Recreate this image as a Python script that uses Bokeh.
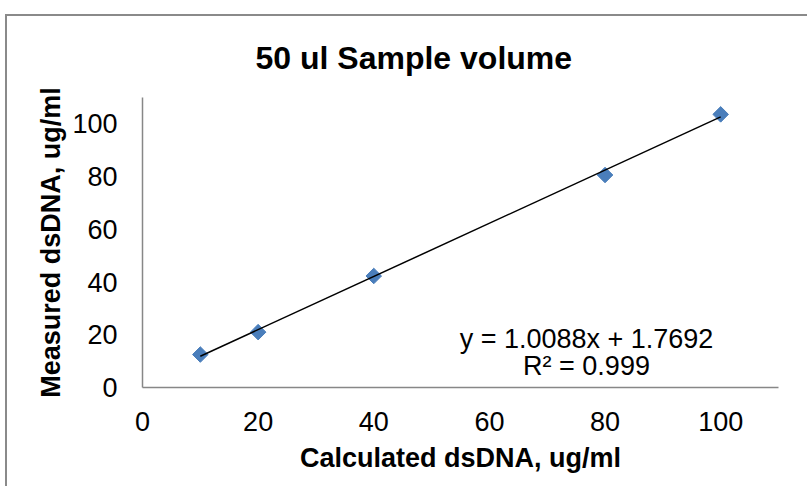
import math
from bokeh.plotting import figure
from bokeh.models import Label, Range1d, FixedTicker
from bokeh.embed import file_html
from bokeh.resources import INLINE

# ---- data ----
calculated = [10, 20, 40, 80, 100]
measured = [12.5, 21.0, 42.3, 80.6, 103.6]
x_ticks = [0, 20, 40, 60, 80, 100]
y_ticks = [0, 20, 40, 60, 80, 100]
slope = 1.0088
intercept = 1.7692
r_squared = 0.999
title_text = "50 ul Sample volume"
x_title = "Calculated dsDNA, ug/ml"
y_title = "Measured dsDNA, ug/ml"

FONT = "Liberation Sans"
AXIS_COLOR = "#878787"

p = figure(width=800, height=470, output_backend="svg", toolbar_location=None,
           x_range=Range1d(0, 110), y_range=Range1d(0, 110),
           min_border_left=135, min_border_right=31, min_border_top=81, min_border_bottom=101)
p.styles = {"position": "absolute", "left": "5px", "top": "14px", "box-sizing": "content-box",
            "border-top": "2px solid #8a8a8a", "border-left": "2px solid #8a8a8a"}
p.outline_line_color = None
p.background_fill_color = "white"
p.border_fill_color = "white"
p.xgrid.visible = False
p.ygrid.visible = False

p.title.text = title_text
p.title.text_font = FONT
p.title.text_font_size = "32px"
p.title.text_font_style = "bold"
p.title.text_color = "black"
p.title.align = "left"
p.title.offset = 113
p.title.standoff = 41
p.title.vertical_align = "middle"

for ax, ticks in ((p.xaxis[0], x_ticks), (p.yaxis[0], y_ticks)):
    ax.ticker = FixedTicker(ticks=ticks)
    ax.axis_line_color = AXIS_COLOR
    ax.axis_line_width = 1.5
    ax.major_tick_line_color = None
    ax.minor_tick_line_color = None
    ax.major_tick_out = 0
    ax.major_tick_in = 0
    ax.major_label_text_font = FONT
    ax.major_label_text_font_size = "27px"
    ax.major_label_text_color = "black"
    ax.axis_label_text_font = FONT
    ax.axis_label_text_font_size = "27px"
    ax.axis_label_text_font_style = "bold"
    ax.axis_label_text_color = "black"
p.yaxis[0].major_label_standoff = 25
p.xaxis[0].major_label_standoff = 24
p.xaxis[0].axis_label = x_title
p.yaxis[0].axis_label = y_title
p.xaxis[0].axis_label_standoff = 9
p.yaxis[0].axis_label_standoff = 3

p.scatter(calculated, measured, marker="square", size=11, angle=math.pi / 4,
          fill_color="#4a7ebb", line_color="#4a7ebb")

tx = [min(calculated), max(calculated)]
ty = [slope * v + intercept for v in tx]
p.line(tx, ty, line_color="black", line_width=1.5)

def lab(text, x, y, size):
    p.add_layout(Label(x=x, y=y, x_units="screen", y_units="screen", text=text,
                       text_font=FONT, text_font_size=size,
                       text_align="center", text_baseline="middle", text_color="black"))

lab(f"y = {slope}x + {intercept}", 444, 49, "27px")
lab(f"R² = {r_squared}", 444, 22, "27px")

open("out.html", "w").write(file_html(p, INLINE))
